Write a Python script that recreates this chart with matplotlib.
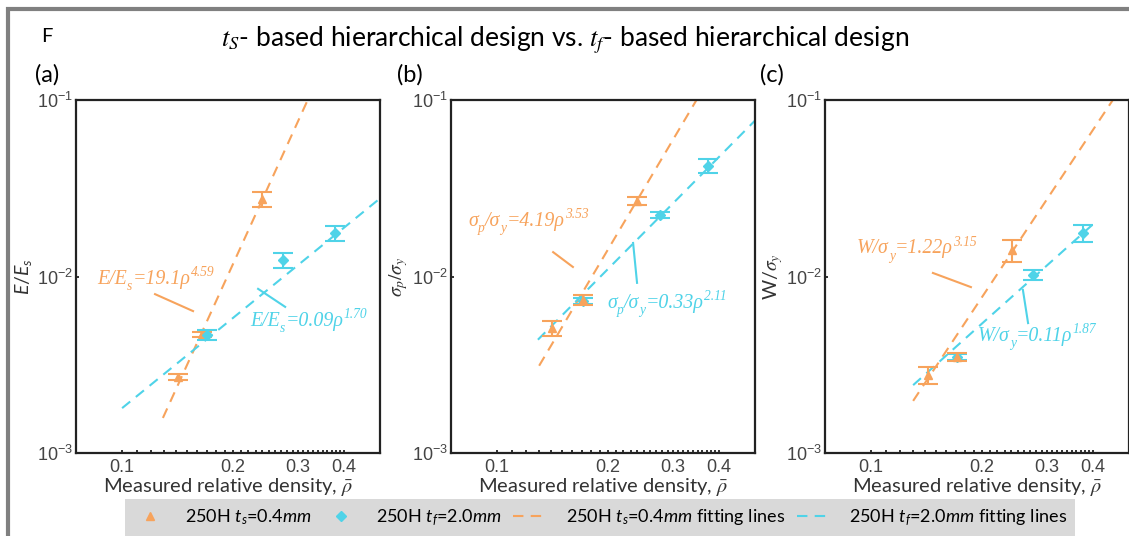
import matplotlib.pyplot as plt
from matplotlib.patches import Rectangle
from matplotlib.lines import Line2D
from matplotlib.ticker import NullFormatter, NullLocator
import numpy as np

plt.rcParams['mathtext.fontset'] = 'custom'
plt.rcParams['mathtext.it'] = 'Lato:italic'
plt.rcParams['mathtext.rm'] = 'Lato'
plt.rcParams['mathtext.fallback'] = 'stix'

orange = '#f7a35c'
cyan = '#4fd3e8'
frame_color = '#222222'

# measured points: 250H t_s=0.4mm (triangles) and 250H t_f=2.0mm (diamonds)
ts_rho = [[0.142, 0.165, 0.239], [0.141, 0.171, 0.239], [0.143, 0.171, 0.241]]
ts_val = [[2.70e-3, 4.67e-3, 0.0275], [5.1e-3, 7.36e-3, 0.0268], [2.77e-3, 3.5e-3, 0.0141]]
ts_err = [[0.1e-3, 0.15e-3, 0.0027], [0.5e-3, 0.45e-3, 0.0014], [0.3e-3, 0.19e-3, 0.002]]
tf_rho = [[0.170, 0.273, 0.378], [0.171, 0.277, 0.373], [0.171, 0.275, 0.376]]
tf_val = [[4.67e-3, 0.0124, 0.0176], [7.3e-3, 0.0223, 0.0423], [3.5e-3, 0.0102, 0.0176]]
tf_err = [[0.3e-3, 0.0012, 0.0017], [0.3e-3, 0.0008, 0.0039], [0.15e-3, 0.0007, 0.002]]

# power law fits y = C * rho^n and the density span each line covers
ts_fit = [(19.1, 4.59), (4.19, 3.53), (1.22, 3.15)]
tf_fit = [(0.09, 1.70), (0.33, 2.11), (0.11, 1.87)]
ts_fit_range = [(0.129, 0.5), (0.13, 0.5), (0.13, 0.5)]
tf_fit_range = [(0.1, 0.5), (0.129, 0.5), (0.13, 0.40)]

panel_tags = ['(a)', '(b)', '(c)']
# left-hand side of each fit formula as (text, position) pieces
fit_lhs = [[('E/E', 'n'), ('s', 'sub')],
           [('σ', 'n'), ('p', 'sub'), ('/σ', 'n'), ('y', 'sub')],
           [('W/σ', 'n'), ('y', 'sub')]]
ylabels = [r'$E/E_s$', r'$\sigma_p/\sigma_y$', r'W/$\sigma_y$']
ylabel_math = ['custom', 'stix', 'stix']
x_ticks = [0.1, 0.2, 0.3, 0.4]
x_tick_labels = ['0.1', '0.2', '0.3', '0.4']
y_ticks = [1e-3, 1e-2, 1e-1]
y_tick_labels = [r'$\mathdefault{10^{-3}}$', r'$\mathdefault{10^{-2}}$', r'$\mathdefault{10^{-1}}$']
legend_labels = [r'250H $\mathit{t_s}\text{=}\mathit{0.4mm}$',
                 r'250H $\mathit{t_f}\text{=}\mathit{2.0mm}$',
                 r'250H $\mathit{t_s}\text{=}\mathit{0.4mm}$ fitting lines',
                 r'250H $\mathit{t_f}\text{=}\mathit{2.0mm}$ fitting lines']

# label placement in axes fractions: text baseline start, leader start, leader end
ts_note_pos = [((0.069, 0.466), (0.260, 0.450), (0.385, 0.402)),
               ((0.056, 0.630), (0.336, 0.569), (0.401, 0.527)),
               ((0.105, 0.551), (0.355, 0.510), (0.480, 0.470))]
tf_note_pos = [((0.572, 0.347), (0.599, 0.465), (0.688, 0.414)),
               ((0.513, 0.398), (0.599, 0.595), (0.612, 0.482)),
               ((0.503, 0.304), (0.651, 0.462), (0.668, 0.368))]
cyan_on_top = [True, False, False]


def formula_text(ax, x, y, pieces, color, size):
    # italic serif formula built from chained pieces so sub/superscripts sit right
    style = dict(color=color, family='Liberation Serif', style='italic')
    base = ax.text(x, y, pieces[0][0], transform=ax.transAxes, fontsize=size,
                   ha='left', va='bottom', **style)
    prev = base
    for txt, kind in pieces[1:]:
        if kind == 'n':
            prev = ax.annotate(txt, xy=(1, 0), xycoords=(prev, base), fontsize=size,
                               ha='left', va='bottom', **style)
        else:
            dy = -0.22 * size if kind == 'sub' else 0.5 * size
            prev = ax.annotate(txt, xy=(1, 0), xycoords=(prev, base), xytext=(0.3, dy),
                               textcoords='offset points', fontsize=size * 0.68,
                               ha='left', va='bottom', **style)


W, H = 1129, 536
fig = plt.figure(figsize=(W / 100, H / 100), dpi=100)
fig.patch.set_facecolor('white')

lefts = [76, 451, 825]
ax_w, ax_top, ax_bot = 304, 100, 453

for i in range(3):
    ax = fig.add_axes([lefts[i] / W, 1 - ax_bot / H, ax_w / W, (ax_bot - ax_top) / H])
    ax.set_xscale('log')
    ax.set_yscale('log')
    ax.set_xlim(0.075, 0.5)
    ax.set_ylim(1e-3, 1e-1)

    for fit, rng, col in [(ts_fit[i], ts_fit_range[i], orange), (tf_fit[i], tf_fit_range[i], cyan)]:
        xs = np.array(rng)
        ax.plot(xs, fit[0] * xs ** fit[1], color=col, lw=1.5, dashes=(5, 3.5), zorder=2)

    z_ts, z_tf = (3, 4) if cyan_on_top[i] else (4, 3)
    ax.errorbar(ts_rho[i], ts_val[i], yerr=ts_err[i], fmt='^', color=orange, ms=6,
                capsize=7, elinewidth=1.5, capthick=1.5, zorder=z_ts)
    ax.errorbar(tf_rho[i], tf_val[i], yerr=tf_err[i], fmt='D', color=cyan, ms=5,
                capsize=7, elinewidth=1.5, capthick=1.5, zorder=z_tf)

    for fit, pos, col in [(ts_fit[i], ts_note_pos[i], orange), (tf_fit[i], tf_note_pos[i], cyan)]:
        pieces = fit_lhs[i] + [('=%gρ' % fit[0], 'n'), ('%.2f' % fit[1], 'sup')]
        formula_text(ax, pos[0][0], pos[0][1], pieces, col, 14.3)
        ax.plot([pos[1][0], pos[2][0]], [pos[1][1], pos[2][1]], color=col, lw=1.5,
                transform=ax.transAxes)

    ax.set_xticks(x_ticks, labels=x_tick_labels)
    ax.set_xticks(np.arange(0.10, 0.405, 0.01), minor=True)
    ax.xaxis.set_minor_formatter(NullFormatter())
    ax.set_yticks(y_ticks, labels=y_tick_labels)
    ax.yaxis.set_minor_locator(NullLocator())
    ax.tick_params(which='both', direction='in', color=frame_color, width=1.3,
                   labelsize=13, labelcolor='#444444', labelfontfamily='Liberation Sans')
    ax.tick_params(which='major', length=2, pad=4)
    ax.tick_params(which='minor', length=2.5)
    ax.tick_params(axis='y', pad=2)
    for sp in ax.spines.values():
        sp.set_linewidth(1.6)
        sp.set_color(frame_color)

    ax.set_xlabel(r'Measured relative density, $\bar{\rho}$', fontsize=14.5, fontfamily='Lato',
                  math_fontfamily='stix', color='#333333', va='center')
    ax.xaxis.set_label_coords(0.5, -(487 - ax_bot) / (ax_bot - ax_top))
    ax.set_ylabel(ylabels[i], fontsize=14, fontfamily='Lato', math_fontfamily=ylabel_math[i],
                  color='#333333', va='center')
    ax.yaxis.set_label_coords(-0.172, 0.5)

    fig.text([35, 397, 760][i] / W, 1 - 75 / H, panel_tags[i], fontsize=17, fontfamily='Lato',
             ha='left', va='center')

fig.text(41 / W, 1 - 37 / H, 'F', fontsize=14.5, fontfamily='Lato', ha='left', va='center')
fig.text(565 / W, 1 - 40 / H, r'$t_S$- based hierarchical design vs. $t_f$- based hierarchical design',
         fontsize=19, fontfamily='Lato', math_fontfamily='stix', ha='center', va='center')

handles = [Line2D([], [], ls='none', marker='^', ms=6, color=orange),
           Line2D([], [], ls='none', marker='D', ms=5, color=cyan),
           Line2D([], [], color=orange, lw=1.5, dashes=(5, 3.5)),
           Line2D([], [], color=cyan, lw=1.5, dashes=(5, 3.5))]
leg = fig.legend(handles, legend_labels, loc='upper left', bbox_to_anchor=(125 / W, 1 - 499 / H),
                 ncol=4, frameon=True, fancybox=False, facecolor='#d9d9d9', edgecolor='none',
                 framealpha=1, prop={'family': 'Lato', 'size': 13}, borderaxespad=0,
                 handlelength=1.9, handletextpad=1.0, columnspacing=0.65, borderpad=0.45)

# grey outer frame, only the top and left edges fall inside the image
fig.patches.append(Rectangle((7.5 / W, -0.2), 1.3, 1.2 - 9 / H, transform=fig.transFigure,
                             fill=False, edgecolor='#808080', lw=3, figure=fig))

fig.savefig('out.png', dpi=100)
